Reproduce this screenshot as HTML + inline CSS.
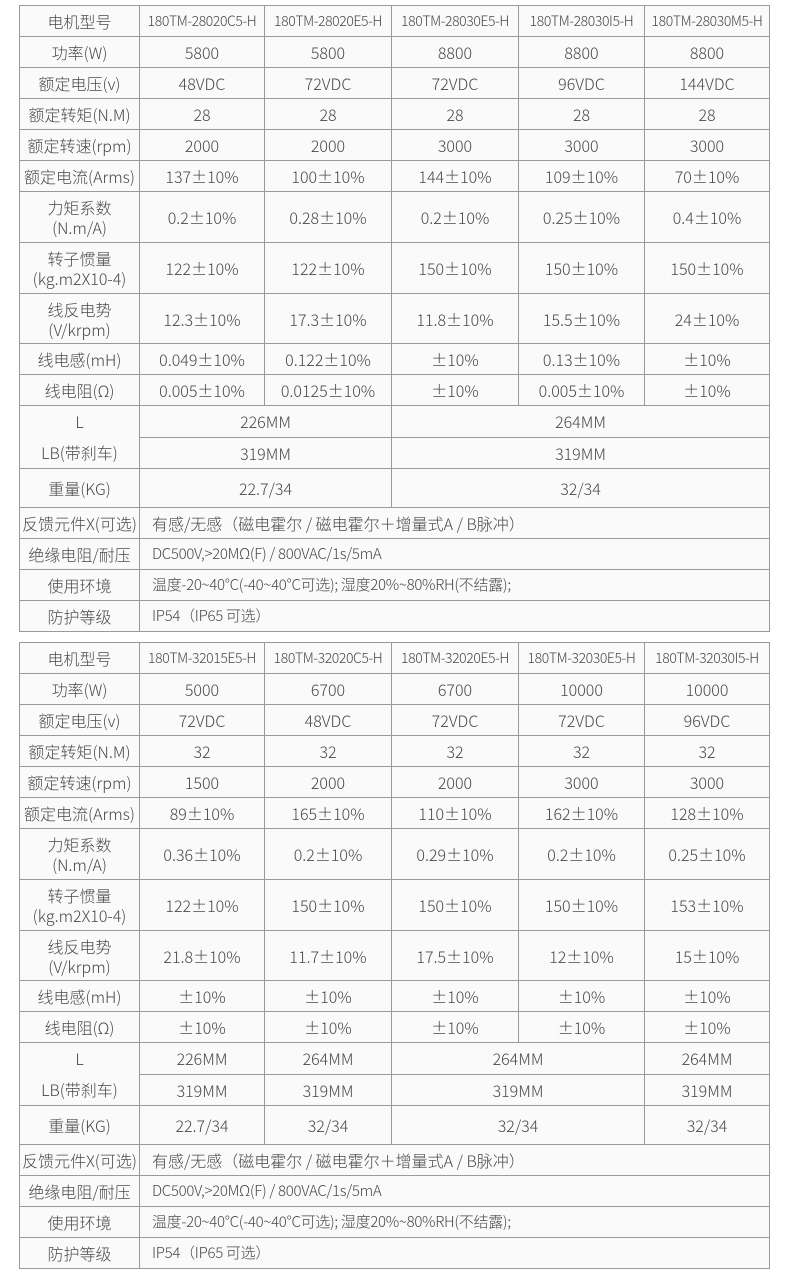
<!DOCTYPE html>
<html><head><meta charset="utf-8"><style>
html,body{margin:0;padding:0;background:#fff;width:790px;height:1274px;overflow:hidden}
table{position:absolute;left:19px;border-collapse:collapse;table-layout:fixed;width:750px;background:#fafafa}
td{border:1px solid #9a9a9a;padding:0;text-align:center;vertical-align:middle;font-family:"Noto Sans CJK SC","Liberation Sans",sans-serif;font-size:16px;color:#484848;line-height:20px;white-space:nowrap;overflow:hidden;font-weight:300}
td.m{font-size:14px;letter-spacing:-0.4px}
td.l{text-align:left;padding-left:12px}
td.s{font-size:15px;letter-spacing:-0.3px}
td.lb{line-height:31px}
.h31{height:31px}.h51{height:51px}.h50{height:50px}.h39{height:39px}
</style></head><body>
<table style="top:5px">
<colgroup><col style="width:120px"><col style="width:125px"><col style="width:127px"><col style="width:127px"><col style="width:126px"><col style="width:125px"></colgroup>
<tr class="h31"><td>电机型号</td><td class="m">180TM-28020C5-H</td><td class="m">180TM-28020E5-H</td><td class="m">180TM-28030E5-H</td><td class="m">180TM-28030I5-H</td><td class="m">180TM-28030M5-H</td></tr>
<tr class="h31"><td>功率(W)</td><td>5800</td><td>5800</td><td>8800</td><td>8800</td><td>8800</td></tr>
<tr class="h31"><td>额定电压(v)</td><td>48VDC</td><td>72VDC</td><td>72VDC</td><td>96VDC</td><td>144VDC</td></tr>
<tr class="h31"><td>额定转矩(N.M)</td><td>28</td><td>28</td><td>28</td><td>28</td><td>28</td></tr>
<tr class="h31"><td>额定转速(rpm)</td><td>2000</td><td>2000</td><td>3000</td><td>3000</td><td>3000</td></tr>
<tr class="h31"><td>额定电流(Arms)</td><td>137±10%</td><td>100±10%</td><td>144±10%</td><td>109±10%</td><td>70±10%</td></tr>
<tr class="h51"><td>力矩系数<br>(N.m/A)</td><td>0.2±10%</td><td>0.28±10%</td><td>0.2±10%</td><td>0.25±10%</td><td>0.4±10%</td></tr>
<tr class="h51"><td>转子惯量<br>(kg.m2X10-4)</td><td>122±10%</td><td>122±10%</td><td>150±10%</td><td>150±10%</td><td>150±10%</td></tr>
<tr class="h50"><td>线反电势<br>(V/krpm)</td><td>12.3±10%</td><td>17.3±10%</td><td>11.8±10%</td><td>15.5±10%</td><td>24±10%</td></tr>
<tr class="h31"><td>线电感(mH)</td><td>0.049±10%</td><td>0.122±10%</td><td>±10%</td><td>0.13±10%</td><td>±10%</td></tr>
<tr class="h31"><td>线电阻(Ω)</td><td>0.005±10%</td><td>0.0125±10%</td><td>±10%</td><td>0.005±10%</td><td>±10%</td></tr>
<tr class="h31"><td rowspan="2" class="lb">L<br>LB(带刹车)</td><td colspan="2">226MM</td><td colspan="3">264MM</td></tr>
<tr class="h31"><td colspan="2">319MM</td><td colspan="3">319MM</td></tr>
<tr class="h39"><td>重量(KG)</td><td colspan="2">22.7/34</td><td colspan="3">32/34</td></tr>
<tr class="h31"><td>反馈元件X(可选)</td><td colspan="5" class="l">有感/无感（磁电霍尔 / 磁电霍尔＋增量式A / B脉冲）</td></tr>
<tr class="h31"><td>绝缘电阻/耐压</td><td colspan="5" class="l s">DC500V,&gt;20MΩ(F) / 800VAC/1s/5mA</td></tr>
<tr class="h31"><td>使用环境</td><td colspan="5" class="l s">温度-20~40°C(-40~40°C可选); 湿度20%~80%RH(不结露);</td></tr>
<tr class="h31"><td>防护等级</td><td colspan="5" class="l s">IP54（IP65 可选）</td></tr>
</table>
<table style="top:642px">
<colgroup><col style="width:120px"><col style="width:125px"><col style="width:127px"><col style="width:127px"><col style="width:126px"><col style="width:125px"></colgroup>
<tr class="h31"><td>电机型号</td><td class="m">180TM-32015E5-H</td><td class="m">180TM-32020C5-H</td><td class="m">180TM-32020E5-H</td><td class="m">180TM-32030E5-H</td><td class="m">180TM-32030I5-H</td></tr>
<tr class="h31"><td>功率(W)</td><td>5000</td><td>6700</td><td>6700</td><td>10000</td><td>10000</td></tr>
<tr class="h31"><td>额定电压(v)</td><td>72VDC</td><td>48VDC</td><td>72VDC</td><td>72VDC</td><td>96VDC</td></tr>
<tr class="h31"><td>额定转矩(N.M)</td><td>32</td><td>32</td><td>32</td><td>32</td><td>32</td></tr>
<tr class="h31"><td>额定转速(rpm)</td><td>1500</td><td>2000</td><td>2000</td><td>3000</td><td>3000</td></tr>
<tr class="h31"><td>额定电流(Arms)</td><td>89±10%</td><td>165±10%</td><td>110±10%</td><td>162±10%</td><td>128±10%</td></tr>
<tr class="h51"><td>力矩系数<br>(N.m/A)</td><td>0.36±10%</td><td>0.2±10%</td><td>0.29±10%</td><td>0.2±10%</td><td>0.25±10%</td></tr>
<tr class="h51"><td>转子惯量<br>(kg.m2X10-4)</td><td>122±10%</td><td>150±10%</td><td>150±10%</td><td>150±10%</td><td>153±10%</td></tr>
<tr class="h50"><td>线反电势<br>(V/krpm)</td><td>21.8±10%</td><td>11.7±10%</td><td>17.5±10%</td><td>12±10%</td><td>15±10%</td></tr>
<tr class="h31"><td>线电感(mH)</td><td>±10%</td><td>±10%</td><td>±10%</td><td>±10%</td><td>±10%</td></tr>
<tr class="h31"><td>线电阻(Ω)</td><td>±10%</td><td>±10%</td><td>±10%</td><td>±10%</td><td>±10%</td></tr>
<tr class="h31"><td rowspan="2" class="lb">L<br>LB(带刹车)</td><td>226MM</td><td>264MM</td><td colspan="2">264MM</td><td>264MM</td></tr>
<tr class="h31"><td>319MM</td><td>319MM</td><td colspan="2">319MM</td><td>319MM</td></tr>
<tr class="h39"><td>重量(KG)</td><td>22.7/34</td><td>32/34</td><td colspan="2">32/34</td><td>32/34</td></tr>
<tr class="h31"><td>反馈元件X(可选)</td><td colspan="5" class="l">有感/无感（磁电霍尔 / 磁电霍尔＋增量式A / B脉冲）</td></tr>
<tr class="h31"><td>绝缘电阻/耐压</td><td colspan="5" class="l s">DC500V,&gt;20MΩ(F) / 800VAC/1s/5mA</td></tr>
<tr class="h31"><td>使用环境</td><td colspan="5" class="l s">温度-20~40°C(-40~40°C可选); 湿度20%~80%RH(不结露);</td></tr>
<tr class="h31"><td>防护等级</td><td colspan="5" class="l s">IP54（IP65 可选）</td></tr>
</table>
</body></html>
